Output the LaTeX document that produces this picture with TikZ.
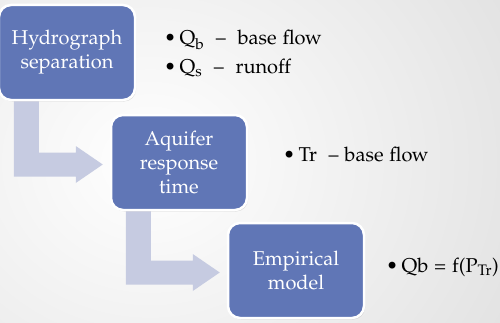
\documentclass[tikz,border=0pt]{standalone}
\usepackage[T1]{fontenc}
\usepackage[sc]{mathpazo}
\usetikzlibrary{calc,shadows}

\definecolor{boxblue}{RGB}{96,118,182}
\definecolor{arrowblue}{RGB}{198,203,225}
\definecolor{slidegray}{RGB}{226,226,226}

\pgfdeclarelayer{slide}
\pgfdeclarelayer{arrows}
\pgfsetlayers{slide,arrows,main}

\tikzset{
  stage/.style={rectangle, rounded corners=12pt, fill=boxblue, draw=white,
    line width=2.5pt, minimum width=136pt, minimum height=95pt,
    text=white, align=center, font=\fontsize{20}{24}\selectfont,
    drop shadow={opacity=0.25, shadow xshift=1pt, shadow yshift=-1.5pt}},
  note/.style={anchor=base west, inner sep=0pt, font=\fontsize{20}{24}\selectfont},
  arrowfill/.style={fill=arrowblue}
}

% bent block arrow from below one stage into the left side of the next
\newcommand{\flowarrow}[2]{%
  \fill[arrowfill] let \p1=(#1.south west), \p2=(#2.west) in
    (\x1+16,\y1+6) -- (\x1+16,\y2-14) -- (\x2-34,\y2-14) -- (\x2-34,\y2-20.5)
    -- (\x2-7,\y2-2) -- (\x2-34,\y2+16.5) -- (\x2-34,\y2+10) -- (\x1+41,\y2+10)
    -- (\x1+41,\y1+6) -- cycle;}

\begin{document}
\begin{tikzpicture}[x=1pt,y=1pt]
  \useasboundingbox (0,0) rectangle (500,322);
  \begin{pgfonlayer}{slide}
    \shade[inner color=white, outer color=slidegray] (-260,-200) rectangle (560,520);
  \end{pgfonlayer}

  \node[stage] (hyd) at (67,269.5) {Hydrograph\\separation};
  \node[stage] (aqu) at (179,159.5) {Aquifer\\response\\time};
  \node[stage] (emp) at (296,51.5) {Empirical\\model};

  \begin{pgfonlayer}{arrows}
    \flowarrow{hyd}{aqu}
    \flowarrow{aqu}{emp}
  \end{pgfonlayer}

  \node[note] (qb) at (164,277) {\textbullet\,Q\textsubscript{b} \ -- \ base flow};
  \node[note] (qs) at (164,249) {\textbullet\,Q\textsubscript{s} \ -- \ runoff};
  \node[note] (tr) at (283,161) {\textbullet\,Tr \ -- base flow};
  \node[note] (qbf) at (386,50) {\textbullet\,Qb = f(P\textsubscript{Tr})};
\end{tikzpicture}
\end{document}
